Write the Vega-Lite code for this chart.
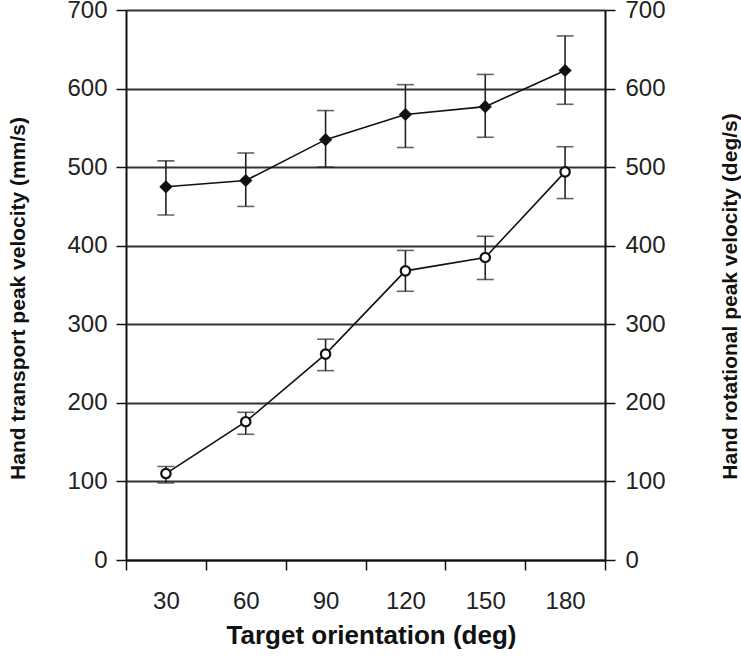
{
  "$schema": "https://vega.github.io/schema/vega-lite/v6.json",
  "width": 479,
  "height": 550,
  "autosize": {"type": "none"},
  "padding": {"left": 126, "top": 10, "right": 136, "bottom": 103},
  "background": "white",
  "config": {
    "view": {"stroke": null},
    "font": "Liberation Sans",
    "axis": {
      "labelFont": "Liberation Sans",
      "titleFont": "Liberation Sans",
      "labelFontSize": 24,
      "labelColor": "#222",
      "titleColor": "#111",
      "titleFontWeight": "bold",
      "domainColor": "#111",
      "domainWidth": 2,
      "tickColor": "#111",
      "tickWidth": 1.5,
      "tickSize": 10
    }
  },
  "data": {
    "values": [
      {"orientation": 30, "transport": 475, "t_lo": 439, "t_hi": 508, "rotation": 110, "r_lo": 98, "r_hi": 119},
      {"orientation": 60, "transport": 483, "t_lo": 450, "t_hi": 518, "rotation": 176, "r_lo": 160, "r_hi": 188},
      {"orientation": 90, "transport": 535, "t_lo": 500, "t_hi": 572, "rotation": 262, "r_lo": 241, "r_hi": 281},
      {"orientation": 120, "transport": 567, "t_lo": 525, "t_hi": 605, "rotation": 368, "r_lo": 342, "r_hi": 394},
      {"orientation": 150, "transport": 577, "t_lo": 538, "t_hi": 618, "rotation": 385, "r_lo": 357, "r_hi": 412},
      {"orientation": 180, "transport": 623, "t_lo": 580, "t_hi": 667, "rotation": 494, "r_lo": 460, "r_hi": 526}
    ]
  },
  "encoding": {
    "x": {
      "field": "orientation",
      "type": "ordinal",
      "scale": {"type": "band", "paddingInner": 0, "paddingOuter": 0},
      "axis": {
        "title": "Target orientation (deg)",
        "titleFontSize": 26,
        "labelAngle": 0,
        "tickBand": "extent",
        "labelPadding": 19,
        "titleX": 245,
        "titleY": 83,
        "titleAlign": "center",
        "titleBaseline": "alphabetic",
        "grid": false
      }
    }
  },
  "layer": [
    {
      "encoding": {
        "y": {
          "field": "transport",
          "type": "quantitative",
          "scale": {"domain": [0, 700], "nice": false},
          "axis": {
            "orient": "left",
            "values": [0, 100, 200, 300, 400, 500, 600, 700],
            "grid": true,
            "gridColor": "#333",
            "gridWidth": 1.8,
            "labelPadding": 9,
            "title": "Hand transport peak velocity (mm/s)",
            "titleFontSize": 21,
            "titleAngle": -90,
            "titleX": -108,
            "titleY": 288,
            "titleAlign": "center",
            "titleBaseline": "middle"
          }
        }
      },
      "layer": [
        {
          "mark": {"type": "rule", "color": "#222", "strokeWidth": 1.6},
          "encoding": {"y": {"field": "t_lo", "type": "quantitative"}, "y2": {"field": "t_hi"}}
        },
        {
          "mark": {"type": "tick", "color": "#222", "size": 17, "thickness": 1.6},
          "encoding": {"y": {"field": "t_lo", "type": "quantitative"}}
        },
        {
          "mark": {"type": "tick", "color": "#222", "size": 17, "thickness": 1.6},
          "encoding": {"y": {"field": "t_hi", "type": "quantitative"}}
        },
        {
          "mark": {"type": "line", "color": "#111", "strokeWidth": 1.6},
          "encoding": {}
        },
        {
          "mark": {"type": "point", "shape": "diamond", "filled": true, "color": "#111", "size": 175, "opacity": 1},
          "encoding": {}
        }
      ]
    },
    {
      "encoding": {
        "y": {
          "field": "rotation",
          "type": "quantitative",
          "scale": {"domain": [0, 700], "nice": false},
          "axis": {
            "orient": "right",
            "values": [0, 100, 200, 300, 400, 500, 600, 700],
            "grid": false,
            "labelPadding": 10,
            "title": "Hand rotational peak velocity (deg/s)",
            "titleFontSize": 21,
            "titleAngle": -90,
            "titleX": 125,
            "titleY": 286,
            "titleAlign": "center",
            "titleBaseline": "middle"
          }
        }
      },
      "layer": [
        {
          "mark": {"type": "rule", "color": "#222", "strokeWidth": 1.6},
          "encoding": {"y": {"field": "r_lo", "type": "quantitative"}, "y2": {"field": "r_hi"}}
        },
        {
          "mark": {"type": "tick", "color": "#222", "size": 17, "thickness": 1.6},
          "encoding": {"y": {"field": "r_lo", "type": "quantitative"}}
        },
        {
          "mark": {"type": "tick", "color": "#222", "size": 17, "thickness": 1.6},
          "encoding": {"y": {"field": "r_hi", "type": "quantitative"}}
        },
        {
          "mark": {"type": "line", "color": "#111", "strokeWidth": 1.6},
          "encoding": {}
        },
        {
          "mark": {"type": "point", "shape": "circle", "filled": true, "fill": "white", "stroke": "#111", "strokeWidth": 2.2, "size": 88, "opacity": 1},
          "encoding": {}
        }
      ]
    }
  ],
  "resolve": {"scale": {"y": "independent"}}
}
